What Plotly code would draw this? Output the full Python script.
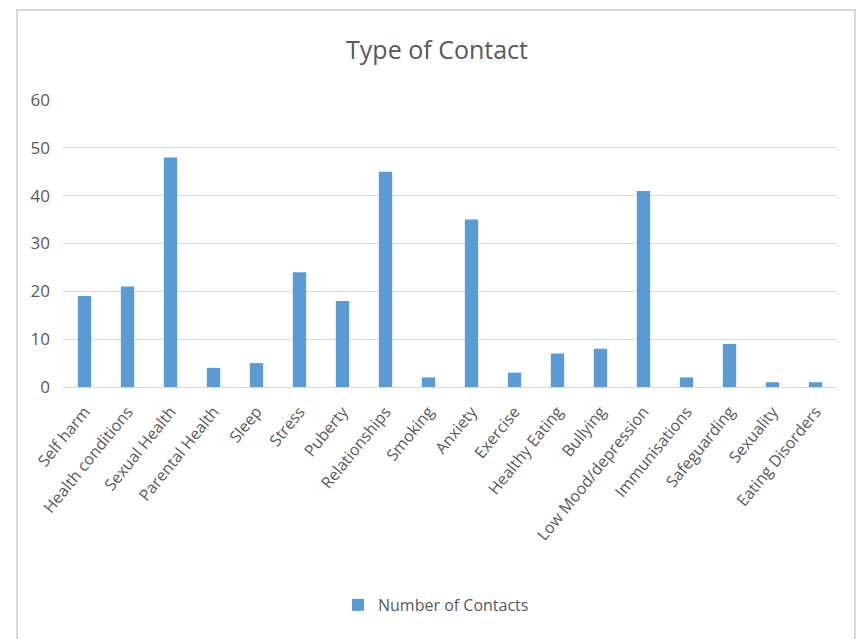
import plotly.graph_objects as go

categories = ["Self harm", "Health conditions", "Sexual Health", "Parental Health", "Sleep",
              "Stress", "Puberty", "Relationships", "Smoking", "Anxiety", "Exercise",
              "Healthy Eating", "Bullying", "Low Mood/depression", "Immunisations",
              "Safeguarding", "Sexuality", "Eating Disorders"]
contacts = [19, 21, 48, 4, 5, 24, 18, 45, 2, 35, 3, 7, 8, 41, 2, 9, 1, 1]
y_ticks = [0, 10, 20, 30, 40, 50, 60]

W, H = 857, 639
L, R, T, B = 63, 20, 100, 252
pw, ph = W - L - R, H - T - B

def px_x(x):
    return (x - L) / pw

def px_y(y):
    return (H - B - y) / ph

fig = go.Figure()
fig.add_trace(go.Bar(x=categories, y=contacts, name="Number of Contacts",
                     marker=dict(color="#5B9BD5", line=dict(width=0)),
                     showlegend=True))

fig.update_layout(
    width=W, height=H,
    margin=dict(l=L, r=R, t=T, b=B),
    paper_bgcolor="white", plot_bgcolor="white",
    font=dict(family="Open Sans, Liberation Sans, sans-serif", color="#595959"),
    title=dict(text="Type of Contact", x=px_x(437), xref="paper", xanchor="center",
               y=1 - 50 / H, yanchor="middle",
               font=dict(size=25, color="#595959", family="Open Sans, sans-serif")),
    bargap=0.69,
    showlegend=True,
    legend=dict(orientation="h", x=px_x(436), xanchor="center", y=px_y(605), yanchor="middle",
                yref="paper", font=dict(size=16, color="#595959"), itemwidth=30),
    xaxis=dict(tickangle=-51, tickfont=dict(size=16, color="#595959"), showgrid=False,
               showline=True, linecolor="#D9D9D9", linewidth=1, ticks="",
               ticklabelstandoff=8),
    yaxis=dict(range=[0, 60], tickvals=y_ticks, showgrid=True, gridcolor="#D9D9D9",
               gridwidth=1, zeroline=False, tickfont=dict(size=17, color="#595959"),
               ticks="", ticklabelstandoff=12),
    shapes=[dict(type="rect", xref="paper", yref="paper",
                 x0=px_x(17), x1=px_x(855), y0=px_y(660), y1=px_y(10),
                 line=dict(color="#D9D9D9", width=2), fillcolor="rgba(0,0,0,0)", layer="below")],
)

fig.write_html("out.html")
